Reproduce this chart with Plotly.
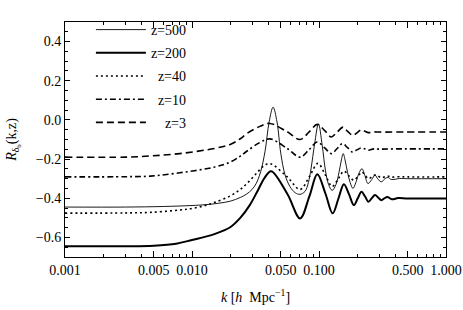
import plotly.graph_objects as go

# ---- data ----
k_z500 = [0.001, 0.003, 0.006, 0.01, 0.0127, 0.016, 0.02, 0.024, 0.027, 0.0297, 0.032, 0.0347, 0.0376, 0.0405,
          0.0435, 0.0467, 0.050, 0.054, 0.059, 0.065, 0.0708, 0.0776, 0.0825, 0.0865, 0.0925, 0.099, 0.106,
          0.1125, 0.119, 0.127, 0.136, 0.1435, 0.1495, 0.155, 0.161, 0.168, 0.176, 0.185, 0.195, 0.207, 0.218,
          0.23, 0.243, 0.26, 0.276, 0.293, 0.312, 0.33, 0.349, 0.37, 0.397, 0.43, 0.5, 1.0]
r_z500 = [-0.445, -0.445, -0.442, -0.437, -0.433, -0.426, -0.415, -0.396, -0.378, -0.355, -0.325, -0.265, -0.16, -0.01,
          0.065, -0.01, -0.17, -0.28, -0.34, -0.372, -0.38, -0.365, -0.32, -0.25, -0.12, -0.02, -0.13,
          -0.26, -0.33, -0.36, -0.33, -0.27, -0.21, -0.172, -0.21, -0.27, -0.32, -0.35, -0.32, -0.27, -0.249,
          -0.285, -0.325, -0.305, -0.282, -0.305, -0.316, -0.30, -0.294, -0.304, -0.303, -0.299, -0.30, -0.30]

k_z200 = [0.001, 0.003, 0.005, 0.0075, 0.01, 0.015, 0.02, 0.024, 0.0285, 0.033, 0.0375, 0.042, 0.0565, 0.071,
          0.084, 0.097, 0.1125, 0.128, 0.1425, 0.157, 0.1725, 0.188, 0.202, 0.216, 0.23, 0.245, 0.26, 0.276,
          0.293, 0.31, 0.328, 0.345, 0.375, 0.42, 0.5, 1.0]
r_z200 = [-0.645, -0.645, -0.642, -0.632, -0.613, -0.583, -0.548, -0.5, -0.435, -0.36, -0.293, -0.262, -0.38, -0.503,
          -0.39, -0.277, -0.377, -0.477, -0.40, -0.328, -0.38, -0.435, -0.40, -0.367, -0.39, -0.418, -0.40, -0.384,
          -0.397, -0.41, -0.40, -0.393, -0.405, -0.399, -0.401, -0.401]

k_z40 = [0.001, 0.003, 0.0047, 0.008, 0.01, 0.0127, 0.0152, 0.02, 0.024, 0.028, 0.0325, 0.0365, 0.041, 0.056,
         0.071, 0.084, 0.098, 0.112, 0.127, 0.142, 0.157, 0.172, 0.188, 0.203, 0.218, 0.231, 0.245, 0.262, 0.28,
         0.31, 0.345, 0.37, 0.42, 0.5, 1.0]
r_z40 = [-0.476, -0.475, -0.472, -0.46, -0.452, -0.437, -0.42, -0.388, -0.355, -0.315, -0.27, -0.237, -0.223, -0.29,
         -0.355, -0.29, -0.222, -0.28, -0.34, -0.30, -0.262, -0.285, -0.308, -0.287, -0.266, -0.283, -0.30, -0.29, -0.28,
         -0.295, -0.286, -0.292, -0.29, -0.291, -0.291]

k_z10 = [0.001, 0.003, 0.0047, 0.008, 0.0152, 0.02, 0.024, 0.027, 0.0343, 0.041, 0.056, 0.071, 0.084, 0.097,
         0.111, 0.125, 0.139, 0.153, 0.168, 0.183, 0.199, 0.215, 0.23, 0.245, 0.27, 0.3, 0.4, 1.0]
r_z10 = [-0.291, -0.29, -0.287, -0.27, -0.24, -0.215, -0.185, -0.16, -0.115, -0.097, -0.145, -0.19, -0.15, -0.113,
         -0.143, -0.172, -0.146, -0.121, -0.142, -0.164, -0.153, -0.143, -0.148, -0.155, -0.148, -0.149, -0.148, -0.148]

k_z3 = [0.001, 0.003, 0.0047, 0.008, 0.0152, 0.02, 0.024, 0.027, 0.0343, 0.041, 0.056, 0.071, 0.084, 0.097,
        0.111, 0.125, 0.139, 0.155, 0.168, 0.185, 0.2, 0.215, 0.23, 0.245, 0.27, 0.3, 0.4, 1.0]
r_z3 = [-0.19, -0.19, -0.184, -0.172, -0.145, -0.125, -0.096, -0.07, -0.033, -0.018, -0.06, -0.10, -0.06, -0.023,
        -0.055, -0.087, -0.062, -0.037, -0.058, -0.079, -0.065, -0.05, -0.058, -0.065, -0.061, -0.062, -0.062, -0.062]

series = [
    ("z=500", k_z500, r_z500, dict(color="black", width=0.9, dash="solid")),
    ("z=200", k_z200, r_z200, dict(color="black", width=2.0, dash="solid")),
    ("\u2002z=40", k_z40, r_z40, dict(color="black", width=1.6, dash="2px,3px")),
    ("\u2002z=10", k_z10, r_z10, dict(color="black", width=1.6, dash="6px,3px,2px,3px")),
    ("\u2002\u2002z=3", k_z3, r_z3, dict(color="black", width=1.6, dash="7px,4px")),
]

x_major = [0.001, 0.005, 0.01, 0.05, 0.1, 0.5, 1.0]
x_major_text = ["0.001", "0.005", "0.010", "0.050", "0.100", "0.500", "1.000"]
x_minor = [m * d for d in (0.001, 0.01, 0.1) for m in range(2, 10) if m != 5]
y_major = [-0.6, -0.4, -0.2, 0.0, 0.2, 0.4]
y_major_text = ["\u22120.6", "\u22120.4", "\u22120.2", "0.0", "0.2", "0.4"]

FAM = "Liberation Serif, Times New Roman, serif"
font = dict(family=FAM, size=14, color="black")

fig = go.Figure()
for i, (name, kk, rr, ln) in enumerate(series):
    fig.add_trace(go.Scatter(x=kk, y=rr, mode="lines", name=name, legendgroup=f"g{i}",
                             line=dict(shape="spline", smoothing=1.0, **ln)))

fig.update_layout(
    width=463, height=310,
    margin=dict(l=65, r=17, t=22, b=53, autoexpand=False),
    paper_bgcolor="white", plot_bgcolor="white",
    font=font,
    showlegend=True,
    legend=dict(x=0.068, y=1.034, xanchor="left", yanchor="top", bgcolor="rgba(0,0,0,0)",
                font=font, itemwidth=50, tracegroupgap=2, traceorder="grouped"),
)
fig.update_xaxes(
    type="log", range=[-3, 0], automargin=False,
    tickmode="array", tickvals=x_major, ticktext=x_major_text, tickfont=font,
    ticks="inside", ticklen=6, tickwidth=1, tickcolor="black",
    minor=dict(tickmode="array", tickvals=x_minor, ticks="inside", ticklen=3, tickcolor="black", showgrid=False),
    showline=True, linecolor="black", linewidth=1, mirror="allticks",
    showgrid=False, zeroline=False,
    title=dict(text="<i>k</i> [<i>h</i>  Mpc<sup>\u22121</sup>]", font=font),
)
fig.update_yaxes(
    range=[-0.7, 0.5], automargin=False,
    tickmode="array", tickvals=y_major, ticktext=y_major_text, tickfont=font,
    ticks="inside", ticklen=5, tickwidth=1, tickcolor="black",
    minor=dict(dtick=0.05, tick0=0, ticks="inside", ticklen=3, tickcolor="black", showgrid=False),
    showline=True, linecolor="black", linewidth=1, mirror="allticks",
    showgrid=False, zeroline=False,
    title=dict(text="<i>R</i><sub>\u03b4<sub>b</sub></sub>(k,z)", font=font),
)

fig.write_html("out.html", config={"displayModeBar": False},
               post_script="document.body.style.margin='0';document.body.style.overflow='hidden';")
